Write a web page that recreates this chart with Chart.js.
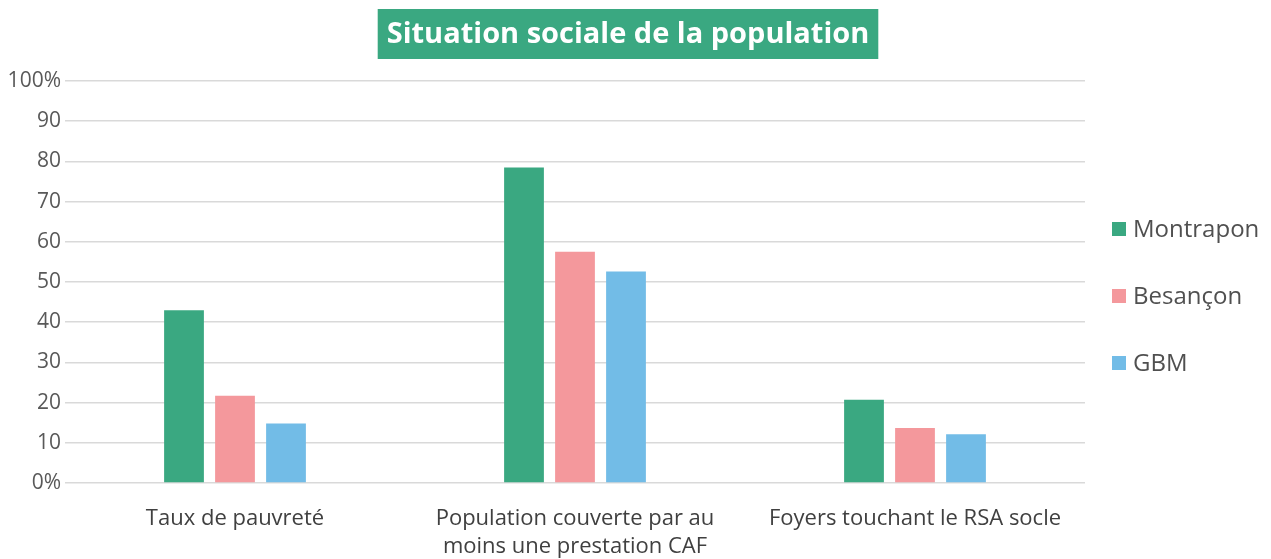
<!DOCTYPE html>
<html>
<head>
<meta charset="utf-8">
<script src="https://cdn.jsdelivr.net/npm/chart.js@4.4.1/dist/chart.umd.min.js"></script>
<style>
  html, body { margin: 0; padding: 0; background: #fff; }
  #wrap { position: relative; width: 1271px; height: 559px; }
</style>
</head>
<body>
<div id="wrap"><canvas id="socialChart" width="1271" height="559"></canvas></div>
<script>
const categories = ['Taux de pauvreté', ['Population couverte par au', 'moins une prestation CAF'], 'Foyers touchant le RSA socle'];
const seriesNames = ['Montrapon', 'Besançon', 'GBM'];
const montrapon = [43, 78.5, 20.7];
const besancon = [21.7, 57.5, 13.7];
const gbm = [14.8, 52.6, 12.1];
const yTickLabels = ['0%', '10', '20', '30', '40', '50', '60', '70', '80', '90', '100%'];
const colors = ['#3aa881', '#f4989c', '#72bce7'];
const chartTitle = 'Situation sociale de la population';

// Titre sur fond vert + légende à droite
const decor = {
    id: 'decor',
    afterDraw(chart) {
        const ctx = chart.ctx;
        const area = chart.chartArea;
        ctx.save();
        // titre
        ctx.font = 'bold 29px "Open Sans"';
        const w = ctx.measureText(chartTitle).width;
        const cx = 628, cy = 34;
        ctx.fillStyle = colors[0];
        ctx.fillRect(cx - w / 2 - 9, cy - 25, w + 18, 50);
        ctx.fillStyle = '#fff';
        ctx.textAlign = 'center';
        ctx.textBaseline = 'middle';
        ctx.fillText(chartTitle, cx, cy + 1);
        // légende
        ctx.font = '24px "Open Sans"';
        ctx.textAlign = 'left';
        chart.data.datasets.forEach((ds, i) => {
            const y = area.top + 148 + i * 67;
            ctx.fillStyle = ds.backgroundColor;
            ctx.fillRect(area.right + 27, y - 7, 14, 14);
            ctx.fillStyle = '#505050';
            ctx.fillText(ds.label, area.right + 48, y + 1);
        });
        ctx.restore();
    }
};

const ctx = document.getElementById('socialChart');
new Chart(ctx, {
    type: 'bar',
    data: {
        labels: categories,
        datasets: [
            { label: seriesNames[0], data: montrapon, backgroundColor: colors[0] },
            { label: seriesNames[1], data: besancon, backgroundColor: colors[1] },
            { label: seriesNames[2], data: gbm, backgroundColor: colors[2] }
        ]
    },
    options: {
        responsive: false,
        animation: false,
        categoryPercentage: 0.45,
        barPercentage: 0.78,
        layout: { padding: { top: 81, right: 186, bottom: 0, left: 0 } },
        plugins: {
            legend: { display: false },
            title: { display: false },
            tooltip: { enabled: false }
        },
        scales: {
            x: {
                afterFit(scale) { scale.height = 76; },
                grid: { display: false },
                border: { display: false },
                ticks: {
                    padding: 14,
                    color: '#404040',
                    font: { family: 'Open Sans', size: 22, lineHeight: 1.27 },
                    maxRotation: 0
                }
            },
            y: {
                min: 0,
                max: 100,
                afterFit(scale) { scale.width = 65; },
                border: { display: false },
                grid: { color: '#d9d9d9', lineWidth: 1.5, drawTicks: false },
                ticks: {
                    stepSize: 10,
                    padding: 4,
                    color: '#595959',
                    font: { family: 'Open Sans', size: 21 },
                    callback: (value, index) => yTickLabels[index]
                }
            }
        }
    },
    plugins: [decor]
});
</script>
</body>
</html>
